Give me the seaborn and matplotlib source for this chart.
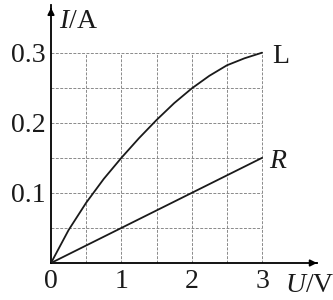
import matplotlib
matplotlib.use("Agg")
import matplotlib.pyplot as plt
import seaborn as sns
import pandas as pd

# Data
u_L = [0, 0.25, 0.5, 0.75, 1.0, 1.25, 1.5, 1.75, 2.0, 2.25, 2.5, 2.75, 3.0]
i_L = [0, 0.047, 0.086, 0.12, 0.15, 0.178, 0.204, 0.228, 0.249, 0.267, 0.282, 0.292, 0.3]
u_R = [0, 1.0, 2.0, 3.0]
i_R = [0, 0.05, 0.10, 0.15]
x_ticks = [0, 1, 2, 3]
x_ticklabels = ["0", "1", "2", "3"]
y_ticks = [0.1, 0.2, 0.3]
y_ticklabels = ["0.1", "0.2", "0.3"]
grid_x = [0.5, 1.0, 1.5, 2.0, 2.5, 3.0]
grid_y = [0.05, 0.1, 0.15, 0.2, 0.25, 0.3]

sns.set_style("white")
plt.rcParams["font.family"] = ["Liberation Serif", "DejaVu Serif"]
plt.rcParams["mathtext.fontset"] = "custom"
plt.rcParams["mathtext.it"] = "Liberation Serif:italic"
plt.rcParams["mathtext.rm"] = "Liberation Serif"

fig = plt.figure(figsize=(3.33, 3.0), dpi=100)
ax = fig.add_axes([51/333, 37/300, 266/333, 258/300])
xmax, ymax = 3.78, 0.368
ax.set_xlim(0, xmax)
ax.set_ylim(0, ymax)

# grid
ax.vlines(grid_x, 0, 0.3, colors="#8a8a8a", linestyles=(0, (3, 1.5)), linewidth=0.7, zorder=1)
ax.hlines(grid_y, 0, 3.0, colors="#8a8a8a", linestyles=(0, (3, 1.5)), linewidth=0.7, zorder=1)

dfL = pd.DataFrame({"U": u_L, "I": i_L})
dfR = pd.DataFrame({"U": u_R, "I": i_R})
sns.lineplot(data=dfL, x="U", y="I", ax=ax, color="#1a1a1a", linewidth=1.3, zorder=3)
sns.lineplot(data=dfR, x="U", y="I", ax=ax, color="#1a1a1a", linewidth=1.3, zorder=3)

for s in ["top", "right"]:
    ax.spines[s].set_visible(False)
for s in ["left", "bottom"]:
    ax.spines[s].set_linewidth(1.3)
    ax.spines[s].set_color("black")

# arrows
ax.annotate("", xy=(xmax, 0), xytext=(xmax - 0.05, 0),
            arrowprops=dict(arrowstyle="-|>", color="black", lw=1.2, mutation_scale=10),
            annotation_clip=False)
ax.annotate("", xy=(0, ymax), xytext=(0, ymax - 0.01),
            arrowprops=dict(arrowstyle="-|>", color="black", lw=1.2, mutation_scale=10),
            annotation_clip=False)

ax.set_xticks(x_ticks)
ax.set_xticklabels(x_ticklabels)
ax.set_yticks(y_ticks)
ax.set_yticklabels(y_ticklabels)
ax.tick_params(axis="both", length=0, labelsize=20, pad=4, colors="#1a1a1a")
ax.set_xlabel("")
ax.set_ylabel("")

ax.text(3.15, 0.295, "L", fontsize=20, va="center", ha="left", color="#1a1a1a")
ax.text(3.1, 0.145, "$R$", fontsize=20, va="center", ha="left", color="#1a1a1a")
ax.text(0.12, 0.344, "$I$/A", fontsize=20, va="center", ha="left", color="#1a1a1a")
ax.text(3.32, -0.032, "$U$/V", fontsize=20, va="center", ha="left", clip_on=False, color="#1a1a1a")

fig.savefig("out.png", dpi=100)
